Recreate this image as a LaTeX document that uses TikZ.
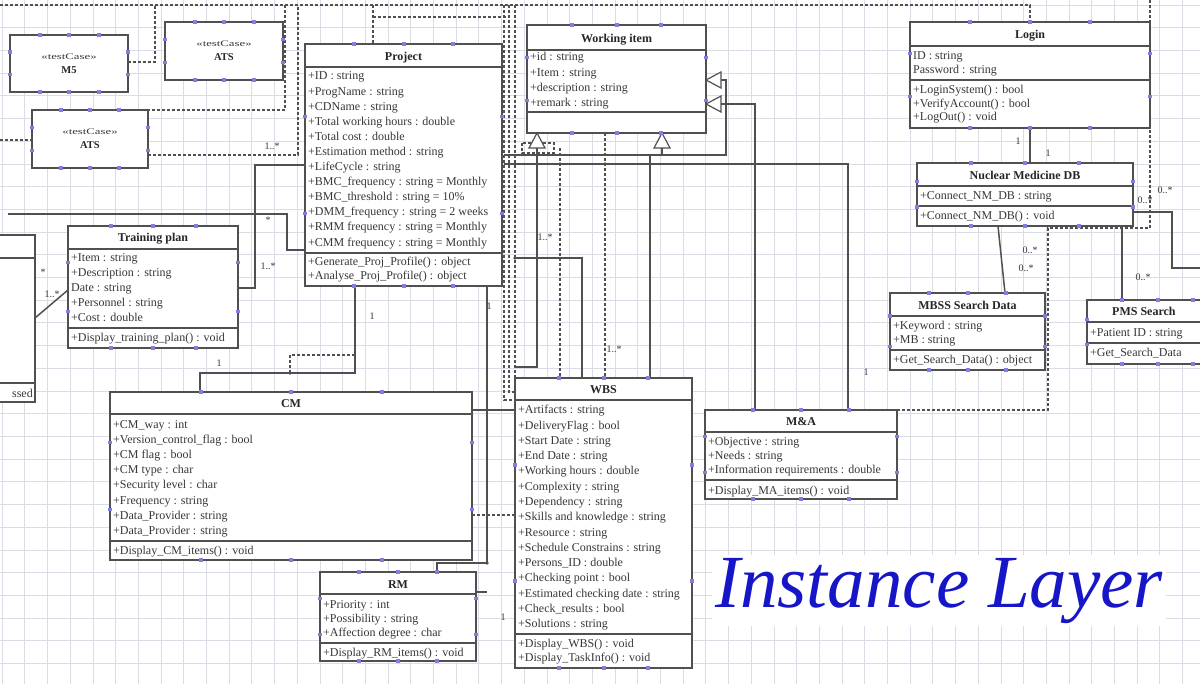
\documentclass[tikz,border=0pt]{standalone}
\usepackage{fontspec}
\setmainfont{Liberation Serif}
\definecolor{gridc}{RGB}{218,221,230}
\definecolor{hcol}{RGB}{128,128,228}
\definecolor{ilblue}{RGB}{22,22,200}
\definecolor{linec}{RGB}{80,80,80}
\definecolor{txtc}{RGB}{55,55,55}
\tikzset{
  classbox/.style={draw=linec, line width=1.6pt, fill=white, inner sep=0pt, outer sep=0pt},
  divline/.style={draw=linec, line width=2pt},
  attr/.style={anchor=base west, inner sep=0pt, text=txtc, font=\fontsize{12}{14}\selectfont},
  ttl/.style={anchor=base, inner sep=0pt, text=black!85, font=\fontsize{12}{14}\selectfont\bfseries},
  conn/.style={draw=linec, line width=1.5pt},
  dep/.style={draw=linec, line width=1.2pt, dash pattern=on 3pt off 2pt},
  mult/.style={inner sep=0pt, text=txtc, font=\fontsize{10}{12}\selectfont},
  gen/.style={draw=linec, fill=white, line width=1.2pt},
  jdot/.style={fill=linec},
  gridline/.style={draw=gridc, line width=0.6pt},
}
\newcommand\hd[2]{\fill[hcol] ({#1-2},{#2-1.6}) rectangle ({#1+2},{#2+1.6});}
\newcommand\bhandles[4]{%
  \foreach \f in {0.25,0.5,0.75}{\hd{#1+(#3-#1)*\f}{#2}\hd{#1+(#3-#1)*\f}{#4}}%
  \foreach \f in {0.3,0.7}{\hd{#1}{#2+(#4-#2)*\f}\hd{#3}{#2+(#4-#2)*\f}}}
\newcommand\umlclass[7]{%
  \node[classbox, minimum width={#4-#2}, minimum height={#5-#3}] (#1) at ({(#2+#4)/2},{(#3+#5)/2}) {};
  \draw[divline] (#2,#6) -- (#4,#6);
  \draw[divline] (#2,#7) -- (#4,#7);}
\newcommand\tcase[6]{%
  \node[classbox, minimum width={#4-#2}, minimum height={#5-#3}] (#1) at ({(#2+#4)/2},{(#3+#5)/2}) {};
  \node[inner sep=0pt, anchor=base, text=txtc, font=\fontsize{8.5}{10}\selectfont] (#1-s) at ({(#2+#4)/2},{(#3+#5)/2-4}) {\scalebox{1.5}[1]{«testCase»}};
  \node[inner sep=0pt, anchor=base, text=black!85, font=\fontsize{10.5}{12}\selectfont\bfseries] (#1-n) at ({(#2+#4)/2},{(#3+#5)/2+10}) {#6};}
\begin{document}
\begin{tikzpicture}[x=1pt,y=-1pt]
\useasboundingbox (0,0) rectangle (1200,684);
\clip (0,0) rectangle (1200,684);
\fill[white] (0,0) rectangle (1200,684);
% grid
\foreach \x in {2,24.7,...,1200} \draw[gridline] (\x,0) -- (\x,684);
\foreach \y in {5,27.7,...,684} \draw[gridline] (0,\y) -- (1200,\y);

% ---------------- classes ----------------
\tcase{m5}{10}{35}{128}{92}{M5}
\tcase{atsA}{165}{22}{283}{80}{ATS}
\tcase{atsB}{32}{110}{148}{168}{ATS}

% left partial class
\umlclass{leftbox}{-10}{235}{35}{402}{258}{383}
\node[attr, anchor=base east] (leftbox-m1) at (33,398) {ssed};

% Project
\umlclass{project}{305}{44}{502}{286}{67}{253}
\node[ttl] (project-t) at (403.5,61) {Project};
\foreach \t [count=\i] in {+ID : string,+ProgName : string,+CDName : string,+Total working hours : double,+Total cost : double,+Estimation method : string,+LifeCycle : string,+BMC\_frequency : string = Monthly,+BMC\_threshold : string = 10\%,+DMM\_frequency : string = 2 weeks,+RMM frequency : string = Monthly,+CMM frequency : string = Monthly}
  \node[attr] (project-a\i) at (308,{80+15.1*(\i-1)}) {\t};
\foreach \t [count=\i] in {+Generate\_Proj\_Profile() : object,+Analyse\_Proj\_Profile() : object}
  \node[attr] (project-m\i) at (308,{266+14*(\i-1)}) {\t};

% Working item
\umlclass{work}{527}{25}{706}{133}{50}{112}
\node[ttl] (work-t) at (616.5,43) {Working item};
\foreach \t [count=\i] in {+id : string,+Item : string,+description : string,+remark : string}
  \node[attr] (work-a\i) at (530,{61+15.3*(\i-1)}) {\t};

% Login
\umlclass{login}{910}{22}{1150}{128}{46}{80}
\node[ttl] (login-t) at (1030,39) {Login};
\foreach \t [count=\i] in {ID : string,Password : string}
  \node[attr] (login-a\i) at (913,{60+13.5*(\i-1)}) {\t};
\foreach \t [count=\i] in {+LoginSystem() : bool,+VerifyAccount() : bool,+LogOut() : void}
  \node[attr] (login-m\i) at (913,{94+13.5*(\i-1)}) {\t};

% Nuclear Medicine DB
\umlclass{nmdb}{917}{163}{1133}{226}{186}{206}
\node[ttl] (nmdb-t) at (1025,180) {Nuclear Medicine DB};
\node[attr] (nmdb-a1) at (920,200) {+Connect\_NM\_DB : string};
\node[attr] (nmdb-m1) at (920,220) {+Connect\_NM\_DB() : void};

% Training plan
\umlclass{training}{68}{226}{238}{348}{249}{328}
\node[ttl] (training-t) at (153,242) {Training plan};
\foreach \t [count=\i] in {+Item : string,+Description : string,Date : string,+Personnel : string,+Cost : double}
  \node[attr] (training-a\i) at (71,{262+15*(\i-1)}) {\t};
\node[attr] (training-m1) at (71,342) {+Display\_training\_plan() : void};

% CM
\umlclass{cm}{110}{392}{472}{560}{414}{541}
\node[ttl] (cm-t) at (291,408) {CM};
\foreach \t [count=\i] in {+CM\_way : int,+Version\_control\_flag : bool,+CM flag : bool,+CM type : char,+Security level : char,+Frequency : string,+Data\_Provider : string,+Data\_Provider : string}
  \node[attr] (cm-a\i) at (113,{429+15*(\i-1)}) {\t};
\node[attr] (cm-m1) at (113,554) {+Display\_CM\_items() : void};

% RM
\umlclass{rm}{320}{572}{476}{661}{594}{643}
\node[ttl] (rm-t) at (398,588) {RM};
\foreach \t [count=\i] in {+Priority : int,+Possibility : string,+Affection degree : char}
  \node[attr] (rm-a\i) at (323,{608+14*(\i-1)}) {\t};
\node[attr] (rm-m1) at (323,656) {+Display\_RM\_items() : void};

% WBS
\umlclass{wbs}{515}{378}{692}{668}{400}{634}
\node[ttl] (wbs-t) at (603.5,394) {WBS};
\foreach \t [count=\i] in {+Artifacts : string,+DeliveryFlag : bool,+Start Date : string,+End Date : string,+Working hours : double,+Complexity : string,+Dependency : string,+Skills and knowledge : string,+Resource : string,+Schedule Constrains : string,+Persons\_ID : double,+Checking point : bool,+Estimated checking date : string,+Check\_results : bool,+Solutions : string}
  \node[attr] (wbs-a\i) at (518,{414+15.25*(\i-1)}) {\t};
\foreach \t [count=\i] in {+Display\_WBS() : void,+Display\_TaskInfo() : void}
  \node[attr] (wbs-m\i) at (518,{647+14.5*(\i-1)}) {\t};

% M&A
\umlclass{ma}{705}{410}{897}{499}{432}{480}
\node[ttl] (ma-t) at (801,426) {M\&A};
\foreach \t [count=\i] in {+Objective : string,+Needs : string,+Information requirements : double}
  \node[attr] (ma-a\i) at (708,{446+14*(\i-1)}) {\t};
\node[attr] (ma-m1) at (708,494) {+Display\_MA\_items() : void};

% MBSS Search Data
\umlclass{mbss}{890}{293}{1045}{370}{316}{350}
\node[ttl] (mbss-t) at (967.5,310) {MBSS Search Data};
\node[attr] (mbss-a1) at (893,330) {+Keyword : string};
\node[attr] (mbss-a2) at (893,344) {+MB : string};
\node[attr] (mbss-m1) at (893,364) {+Get\_Search\_Data() : object};

% PMS Search (cut at the right edge)
\umlclass{pms}{1087}{300}{1228}{364}{322}{343}
\node[ttl, anchor=base west] (pms-t) at (1112,316) {PMS Search};
\node[attr] (pms-a1) at (1090,337) {+Patient ID : string};
\node[attr] (pms-m1) at (1090,357) {+Get\_Search\_Data};

% ---------------- dependencies (dashed) ----------------
\draw[dep] (0,5) -- (1030,5) -- (login.north -| 1030,0);
\draw[dep] (m5.east |- 0,62) -- (155,62) -- (155,5);
\draw[dep] (atsB.north west) -| (285,5);
\draw[dep] (atsB.east |- 0,155) -- (298,155) -- (298,5);
\draw[dep] (0,140) -- (atsB.west |- 0,140);
\draw[dep] (373,5) -- (project.north -| 373,0);
\draw[dep] (373,17) -- (509,17);
\draw[dep] (504,5) -- (504,400) -- (wbs.west |- 0,400);
\draw[dep] (509,5) -- (509,392) -- (wbs.west |- 0,392);
\draw[dep] (515,5) -- (wbs.north west);
\draw[dep] (560,148) -- (wbs.north -| 560,0);
\draw[dep] (work.south -| 605,0) -- (wbs.north -| 605,0);
\draw[dep] (cm.east |- 0,515) -- (wbs.west |- 0,515);
\draw[dep] (290,373) -- (290,355) -- (355,355);
\draw[dep] (1150,0) -- (1150,228) -- (1048,228) -- (1048,410) -- (ma.north east);
\draw[dep] (522,143) rectangle (554,153);

% ---------------- associations (solid) ----------------
\draw[conn] (project.south -| 355,0) -- (355,373) -| (cm.north -| 200,0);
\draw[conn] (project.south -| 487,0) -- (487,563) -| (rm.north -| 437,0);
\draw[conn] (rm.east |- 0,592) -- (487,592);
\draw[conn] (cm.east |- 0,410) -- (wbs.west |- 0,410);
\draw[conn] (training.east |- 0,288) -| (255,165) -- (project.west |- 0,165);
\draw[conn] (8,214) -- (287,214) -- (287,250) -- (project.west |- 0,250);
\draw[conn] (leftbox.east |- 0,318) -- (training.west |- 0,290);

% generalizations into Working item
\draw[conn] (537,147) -- (537,367) -- (515,367);
\draw[conn] (721,80) -- (726,80) -- (726,155) -- (504,155);
\draw[conn] (662,147) -- (662,155);
\draw[conn] (650,155) -- (wbs.north -| 650,0);
\draw[conn] (721,104) -- (755,104) -- (ma.north -| 755,0);
\draw[conn] (504,164) -- (848,164) -- (ma.north -| 848,0);
\draw[conn] (515,258) -- (582,258) -- (wbs.north -| 582,0);
\draw[gen] (work.south -| 537,0) -- (529,148) -- (545,148) -- cycle;
\draw[gen] (work.south -| 662,0) -- (654,148) -- (670,148) -- cycle;
\draw[gen] (work.east |- 0,80) -- (721,72) -- (721,88) -- cycle;
\draw[gen] (work.east |- 0,104) -- (721,96) -- (721,112) -- cycle;
\foreach \p in {(537,164),(560,164),(605,164),(650,164),(755,164),(537,155),(515,258),(255,214),(290,373),(487,563)}
  \fill[jdot] \p circle (1.8);

% right group
\draw[conn] (login.south -| 1030,0) -- (nmdb.north -| 1030,0);
\draw[conn] (nmdb.south -| 998,0) -- (mbss.north -| 1005,0);
\draw[conn] (nmdb.east |- 0,212) -- (1172,212) -- (1172,268) -- (1200,268);
\draw[conn] (nmdb.south -| 1122,0) -- (pms.north -| 1122,0);

% ---------------- multiplicities ----------------
\node[mult] (l1) at (372,316) {1};
\node[mult] (l2) at (219,363) {1};
\node[mult] (l3) at (489,306) {1};
\node[mult] (l4) at (503,617) {1};
\node[mult] (l5) at (272,146) {1..*};
\node[mult] (l6) at (268,220) {*};
\node[mult] (l7) at (268,266) {1..*};
\node[mult] (l8) at (43,272) {*};
\node[mult] (l9) at (52,294) {1..*};
\node[mult] (l10) at (545,237) {1..*};
\node[mult] (l11) at (614,349) {1..*};
\node[mult] (l12) at (1018,141) {1};
\node[mult] (l13) at (1048,153) {1};
\node[mult] (l14) at (1030,250) {0..*};
\node[mult] (l15) at (1026,268) {0..*};
\node[mult] (l16) at (1165,190) {0..*};
\node[mult] (l17) at (1145,200) {0..*};
\node[mult] (l18) at (1143,277) {0..*};
\node[mult] (l19) at (866,372) {1};

% ---------------- connection handles ----------------
\bhandles{10}{35}{128}{92}
\bhandles{165}{22}{283}{80}
\bhandles{32}{110}{148}{168}
\bhandles{305}{44}{502}{286}
\bhandles{527}{25}{706}{133}
\bhandles{910}{22}{1150}{128}
\bhandles{917}{163}{1133}{226}
\bhandles{68}{226}{238}{348}
\bhandles{110}{392}{472}{560}
\bhandles{320}{572}{476}{661}
\bhandles{515}{378}{692}{668}
\bhandles{705}{410}{897}{499}
\bhandles{890}{293}{1045}{370}
\bhandles{1087}{300}{1228}{364}

% ---------------- title ----------------
\node[anchor=base west, inner sep=3pt, fill=white, text=ilblue, font=\fontsize{75}{80}\selectfont\itshape] (layer) at (712,607) {Instance Layer};
\end{tikzpicture}
\end{document}
